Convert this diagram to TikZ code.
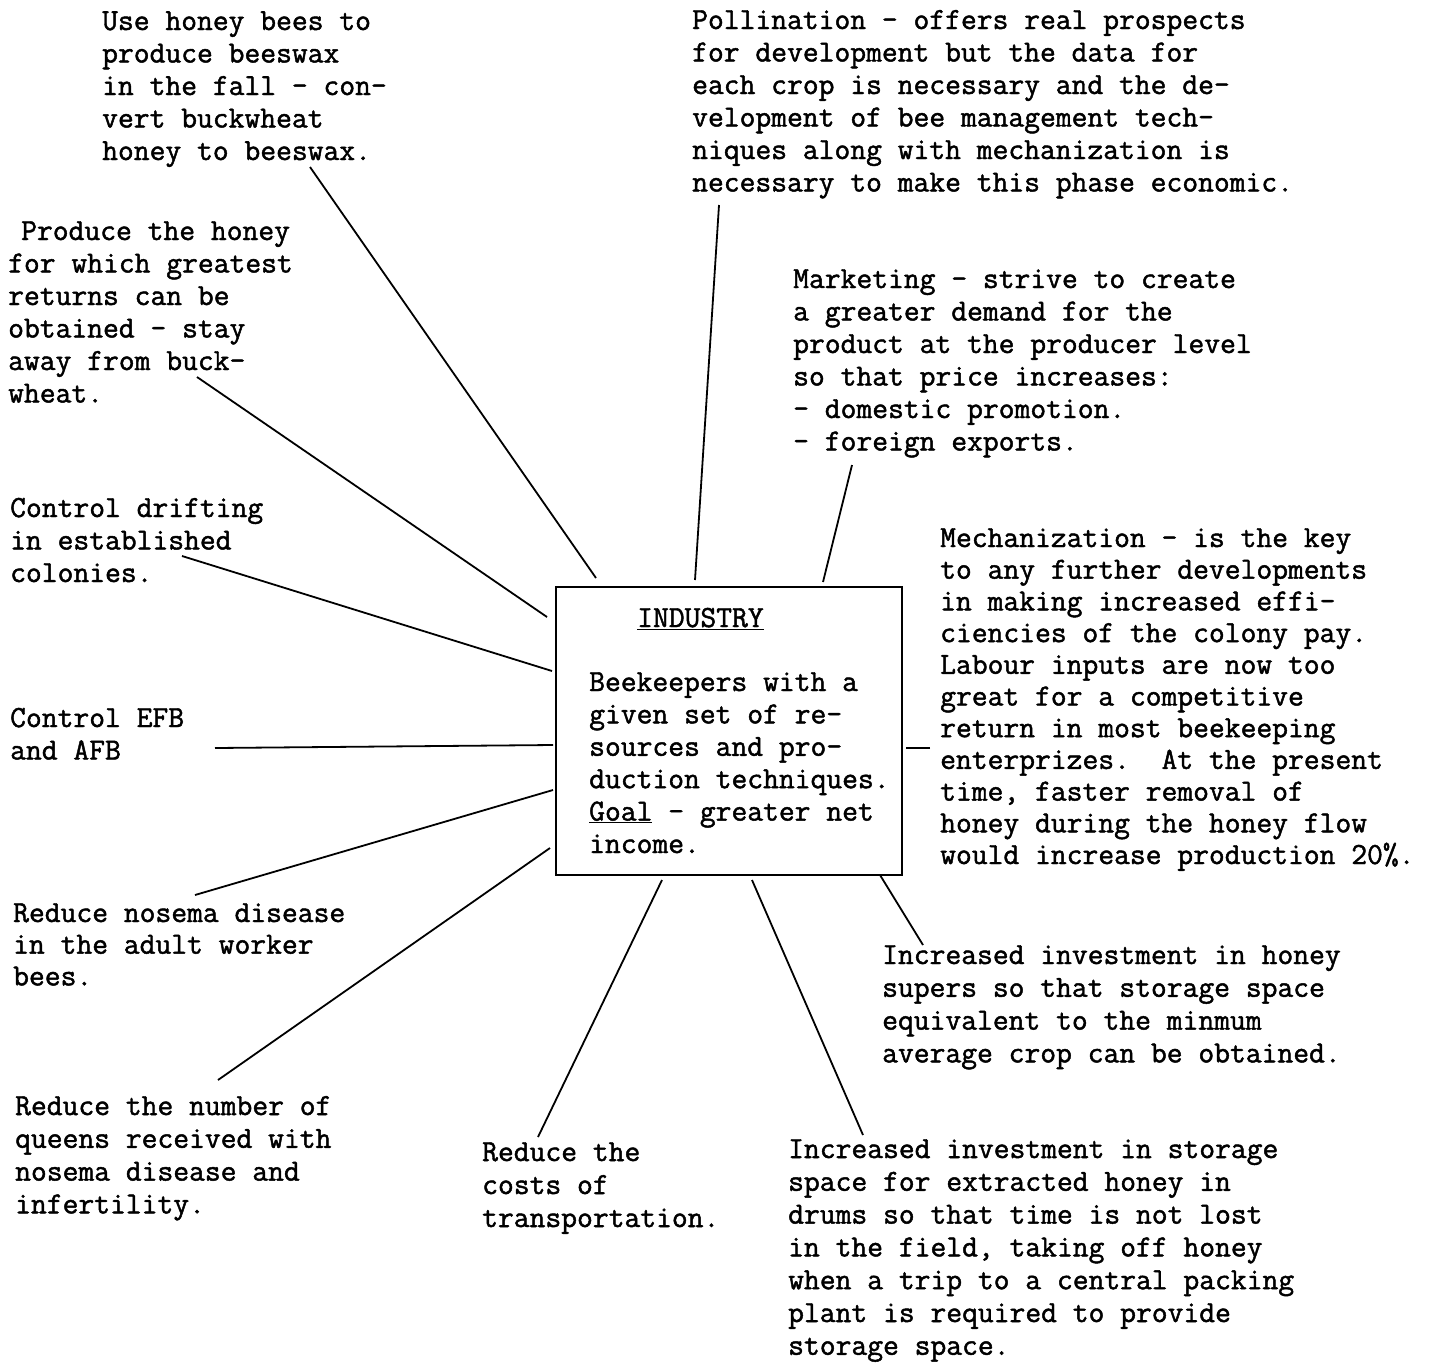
\documentclass[tikz,border=0pt]{standalone}
\usepackage{fontspec}
\newfontfamily\tw[FakeBold=1.5]{Latin Modern Mono}
\begin{document}
\begin{tikzpicture}[x=1pt,y=-1pt,
  txt/.style={anchor=base west, align=left, inner sep=0pt, font={\tw\fontsize{30.7}{32.5}\selectfont}},
  tight/.style={font={\tw\fontsize{30.7}{31.7}\selectfont}},
  loose/.style={font={\tw\fontsize{30.7}{32.8}\selectfont}},
  conn/.style={line width=1.8pt, black},
  boxstyle/.style={draw, line width=1.8pt, minimum width=346pt, minimum height=288pt, inner sep=0pt}]
\useasboundingbox (0,0) rectangle (1434,1363);

% central box (anchor base west = baseline of the LAST line of each text)
\node[boxstyle] (box) at (729,731) {};
\node[txt] (ind) at (637,627) {\underline{INDUSTRY}};
\node[txt, font={\tw\fontsize{30.7}{32.4}\selectfont}] (bk) at (589,853) {Beekeepers with a\\given set of re-\\sources and pro-\\duction techniques.\\\underline{Goal} - greater net\\income.};

% surrounding texts
\node[txt] (n1) at (102,160) {Use honey bees to\\produce beeswax\\in the fall - con-\\vert buckwheat\\honey to beeswax.};
\node[txt] (n2) at (692,191.5) {Pollination - offers real prospects\\for development but the data for\\each crop is necessary and the de-\\velopment of bee management tech-\\niques along with mechanization is\\necessary to make this phase economic.};
\node[txt] (n3) at (8,402.5) {\hspace*{13pt}Produce the honey\\for which greatest\\returns can be\\obtained - stay\\away from buck-\\wheat.};
\node[txt] (n4) at (793,450.5) {Marketing - strive to create\\a greater demand for the\\product at the producer level\\so that price increases:\\- domestic promotion.\\- foreign exports.};
\node[txt] (n5) at (10,582) {Control drifting\\in established\\colonies.};
\node[txt, tight] (n6) at (940,864) {Mechanization - is the key\\to any further developments\\in making increased effi-\\ciencies of the colony pay.\\Labour inputs are now too\\great for a competitive\\return in most beekeeping\\enterprizes.\ \ At the present\\time, faster removal of\\honey during the honey flow\\would increase production 20\%.};
\node[txt] (n7) at (10,759.5) {Control EFB\\and AFB};
\node[txt, tight] (n8) at (13,985.4) {Reduce nosema disease\\in the adult worker\\bees.};
\node[txt, loose] (n9) at (882,1062.4) {Increased investment in honey\\supers so that storage space\\equivalent to the minmum\\average crop can be obtained.};
\node[txt, loose] (n10) at (15,1213.4) {Reduce the number of\\queens received with\\nosema disease and\\infertility.};
\node[txt, font={\tw\fontsize{30.7}{33}\selectfont}] (n11) at (482,1227) {Reduce the\\costs of\\transportation.};
\node[txt, loose] (n12) at (788,1354.8) {Increased investment in storage\\space for extracted honey in\\drums so that time is not lost\\in the field, taking off honey\\when a trip to a central packing\\plant is required to provide\\storage space.};

% connector end points
\coordinate (a1) at (310,167);  \coordinate (b1) at (596,578);
\coordinate (a2) at (719,205);  \coordinate (b2) at (695,580);
\coordinate (a3) at (197,377);  \coordinate (b3) at (547,617);
\coordinate (a4) at (182,556);  \coordinate (b4) at (552,671);
\coordinate (a5) at (215,748);  \coordinate (b5) at (553,745);
\coordinate (a6) at (195,895);  \coordinate (b6) at (553,790);
\coordinate (a7) at (218,1080); \coordinate (b7) at (550,848);
\coordinate (a8) at (538,1137); \coordinate (b8) at (662,880);
\coordinate (a9) at (863,1135); \coordinate (b9) at (752,880);
\coordinate (a10) at (923,945); \coordinate (b10) at (880,875);
\coordinate (a11) at (930,748); \coordinate (b11) at (906,748);
\coordinate (a12) at (852,465); \coordinate (b12) at (823,582);

\foreach \i in {1,...,12} {\draw[conn] (a\i) -- (b\i);}
\end{tikzpicture}
\end{document}
